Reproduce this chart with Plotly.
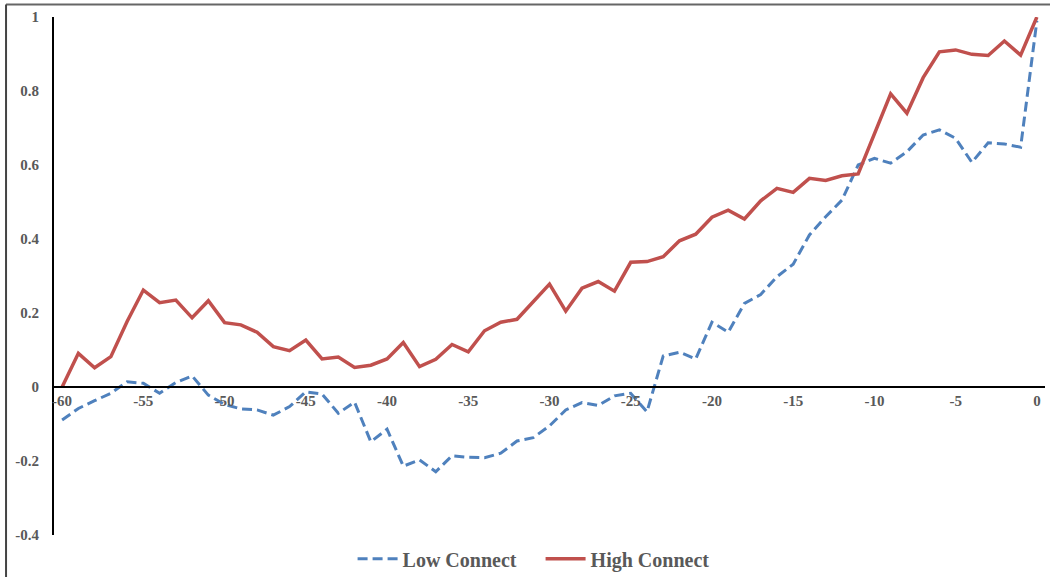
import plotly.graph_objects as go

periods = list(range(-60, 1))

high_connect = [
    0.000, 0.091, 0.052, 0.082, 0.177, 0.262, 0.228, 0.235, 0.187, 0.233,
    0.174, 0.168, 0.148, 0.109, 0.098, 0.127, 0.076, 0.081, 0.053, 0.059,
    0.076, 0.120, 0.055, 0.075, 0.115, 0.095, 0.152, 0.175, 0.183, 0.231,
    0.278, 0.205, 0.267, 0.285, 0.259, 0.337, 0.339, 0.352, 0.395, 0.413,
    0.459, 0.478, 0.454, 0.503, 0.537, 0.526, 0.564, 0.558, 0.571, 0.576,
    0.685, 0.792, 0.740, 0.836, 0.906, 0.911, 0.899, 0.896, 0.935, 0.897,
    1.000,
]

low_connect = [
    -0.089, -0.058, -0.037, -0.017, 0.014, 0.010, -0.017, 0.012, 0.030, -0.022,
    -0.047, -0.059, -0.062, -0.076, -0.053, -0.013, -0.019, -0.071, -0.041, -0.148,
    -0.114, -0.214, -0.197, -0.229, -0.186, -0.190, -0.191, -0.179, -0.146, -0.137,
    -0.105, -0.062, -0.042, -0.050, -0.024, -0.017, -0.067, 0.084, 0.094, 0.076,
    0.175, 0.148, 0.226, 0.250, 0.298, 0.332, 0.411, 0.460, 0.505, 0.600,
    0.618, 0.605, 0.636, 0.681, 0.695, 0.672, 0.607, 0.660, 0.657, 0.648,
    0.990,
]

x_tick_vals = [-60, -55, -50, -45, -40, -35, -30, -25, -20, -15, -10, -5, 0]
x_tick_text = ["-60", "-55", "-50", "-45", "-40", "-35", "-30", "-25", "-20", "-15", "-10", "-5", "0"]
y_tick_vals = [1, 0.8, 0.6, 0.4, 0.2, 0, -0.2, -0.4]
y_tick_text = ["1", "0.8", "0.6", "0.4", "0.2", "0", "-0.2", "-0.4"]

FONT = "Liberation Serif"
TICK_COLOR = "#595959"

fig = go.Figure()
fig.add_trace(go.Scatter(
    x=periods, y=low_connect, mode="lines", name="<b>Low Connect</b>",
    line=dict(color="#4F81BD", width=3, dash="10px,5px"),
))
fig.add_trace(go.Scatter(
    x=periods, y=high_connect, mode="lines", name="<b>High Connect</b>",
    line=dict(color="#C0504D", width=3.5),
))

y_min, y_max = -0.4, 1.0

fig.update_layout(
    width=1050, height=577,
    margin=dict(l=54, r=5, t=17, b=42, autoexpand=False),
    paper_bgcolor="white", plot_bgcolor="white",
    font=dict(family=FONT, color=TICK_COLOR),
    showlegend=True,
    legend=dict(
        orientation="h", x=0.491, xanchor="center", y=-0.046, yanchor="middle",
        font=dict(family=FONT, size=20, color=TICK_COLOR),
        itemwidth=40, entrywidth=133, entrywidthmode="pixels",
        bgcolor="rgba(0,0,0,0)",
    ),
    xaxis=dict(
        range=[-60.5, 0.5], anchor="free", position=(0 - y_min) / (y_max - y_min),
        automargin=False,
        showgrid=False, zeroline=False, showline=True, linecolor="black", linewidth=2,
        tickvals=x_tick_vals, ticktext=x_tick_text, ticks="",
        tickfont=dict(family=FONT, size=15, color=TICK_COLOR, weight="bold"),
    ),
    yaxis=dict(
        range=[y_min, y_max], automargin=False,
        showgrid=False, zeroline=False, showline=True, linecolor="black", linewidth=2,
        tickvals=y_tick_vals, ticktext=y_tick_text, ticks="",
        ticklabelstandoff=10,
        tickfont=dict(family=FONT, size=15, color=TICK_COLOR, weight="bold"),
    ),
    shapes=[
        dict(type="line", xref="paper", yref="paper",
             x0=-0.0484, x1=1.01, y0=1.0241, y1=1.0241,
             line=dict(color="#666666", width=2)),
        dict(type="line", xref="paper", yref="paper",
             x0=-0.0484, x1=-0.0484, y0=1.0241, y1=-0.09,
             line=dict(color="#444444", width=2)),
    ],
)

fig.write_html("out.html", config={"displayModeBar": False},
               post_script="document.body.style.margin='0px';")
